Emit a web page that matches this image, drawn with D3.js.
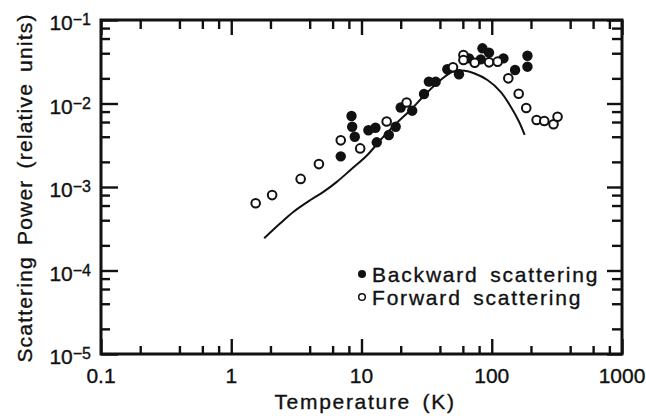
<!DOCTYPE html>
<html>
<head>
<meta charset="utf-8">
<script src="https://cdn.jsdelivr.net/npm/d3@7"></script>
<style>
  body { margin: 0; background: white; }
  text { font-family: "Liberation Sans", Arial, sans-serif; fill: #111; stroke: #111; stroke-width: 0.35px; }
</style>
</head>
<body>
<script>
// temperatures (K) and scattering power
let backT = [6.93, 8.38, 8.48, 8.88, 11.3, 12.8, 13.1, 16.2, 18.3, 20.0, 24.5, 30.2, 32.9, 37.1, 45.6, 56.0, 66.9, 82.3, 84.8, 95.3, 123, 151, 188, 188]
let backP = [2.33e-3, 7.08e-3, 5.27e-3, 4.00e-3, 4.78e-3, 5.13e-3, 3.43e-3, 4.20e-3, 5.27e-3, 8.95e-3, 8.2e-3, 1.30e-2, 1.83e-2, 1.82e-2, 2.57e-2, 2.24e-2, 3.47e-2, 3.38e-2, 4.58e-2, 4.06e-2, 3.47e-2, 2.52e-2, 3.73e-2, 2.76e-2]
let fwdT = [1.54, 2.06, 3.41, 4.71, 6.93, 9.77, 15.6, 22.2, 50.4, 60.6, 60.6, 74.0, 95.3, 111, 134, 161, 184, 221, 253, 298, 320]
let fwdP = [6.4e-4, 8.0e-4, 1.25e-3, 1.88e-3, 3.62e-3, 2.90e-3, 6.08e-3, 1.03e-2, 2.72e-2, 3.81e-2, 3.32e-2, 3.08e-2, 3.11e-2, 3.17e-2, 2.00e-2, 1.31e-2, 8.83e-3, 6.34e-3, 6.16e-3, 5.64e-3, 6.95e-3]
let curveT = [1.79, 2.38, 3.01, 4.05, 5.13, 6.50, 8.23, 11.1, 14.0, 18.3, 23.8, 31.1, 40.5, 50.1, 62.0, 73.1, 92.7, 117, 140, 162, 179]
let curveP = [2.43e-4, 3.67e-4, 5.06e-4, 6.98e-4, 8.79e-4, 1.16e-3, 1.60e-3, 2.42e-3, 3.66e-3, 5.68e-3, 8.36e-3, 1.30e-2, 1.91e-2, 2.40e-2, 2.47e-2, 2.30e-2, 1.91e-2, 1.38e-2, 9.16e-3, 6.05e-3, 4.20e-3]

let xMajor = [0.1, 1, 10, 100, 1000]
let xLabels = ['0.1', '1', '10', '100', '1000']
let yMajor = [1e-5, 1e-4, 1e-3, 1e-2, 1e-1]
let yExp = ['\u22125', '\u22124', '\u22123', '\u22122', '\u22121']
let minorSteps = [2, 4, 6, 8]
let legendNames = ['Backward scattering', 'Forward scattering']

function main(){
    let width = 646, height = 416
    let svg = d3.select('body').append('svg')
        .attr('width', width)
        .attr('height', height)
        .attr('style', 'background-color: white')

    let x = d3.scaleLog().domain([0.1, 1000]).range([101, 622])
    let y = d3.scaleLog().domain([1e-5, 1e-1]).range([354, 20])

    let xMinor = []
    xMajor.slice(0, -1).forEach(d => minorSteps.forEach(s => xMinor.push(d * s)))
    let yMinor = []
    yMajor.slice(0, -1).forEach(d => minorSteps.forEach(s => yMinor.push(d * s)))

    // ticks on all four sides, pointing inward
    function ticks(gen, vals, size, tx, ty){
        let g = svg.append('g')
            .attr('transform', `translate(${tx},${ty})`)
            .call(gen.tickValues(vals).tickSize(-size).tickFormat(''))
        g.select('.domain').remove()
        g.selectAll('line').attr('stroke', '#111').attr('stroke-width', 2.4)
    }
    ticks(d3.axisBottom(x), xMajor, 15, 0, 354)
    ticks(d3.axisBottom(x), xMinor, 8, 0, 354)
    ticks(d3.axisTop(x), xMajor, 15, 0, 20)
    ticks(d3.axisTop(x), xMinor, 9, 0, 20)
    ticks(d3.axisLeft(y), yMajor, 17, 101, 0)
    ticks(d3.axisLeft(y), yMinor, 9, 101, 0)
    ticks(d3.axisRight(y), yMajor, 15, 622, 0)
    ticks(d3.axisRight(y), yMinor, 10, 622, 0)

    svg.append('rect')
        .attr('x', 101).attr('y', 20)
        .attr('width', 521).attr('height', 334)
        .attr('fill', 'none')
        .attr('stroke', '#111')
        .attr('stroke-width', 3)

    // tick labels
    svg.selectAll('.xlab')
        .data(xMajor)
        .enter()
        .append('text')
        .attr('x', d => x(d))
        .attr('y', 383)
        .attr('text-anchor', 'middle')
        .attr('font-size', '21px')
        .text((d, i) => xLabels[i])

    let yl = svg.selectAll('.ylab')
        .data(yMajor)
        .enter()
        .append('text')
        .attr('x', 91)
        .attr('y', d => y(d) + 10)
        .attr('text-anchor', 'end')
        .attr('font-size', '21px')
    yl.append('tspan').text('10')
    yl.append('tspan')
        .attr('dy', -5)
        .attr('font-size', '16px')
        .text((d, i) => yExp[i])

    // axis titles
    svg.append('text')
        .attr('x', 365)
        .attr('y', 409)
        .attr('text-anchor', 'middle')
        .attr('font-size', '21px')
        .attr('letter-spacing', '1.7px')
        .attr('word-spacing', '4px')
        .text('Temperature (K)')
    svg.append('text')
        .attr('transform', 'translate(32,188) rotate(-90)')
        .attr('text-anchor', 'middle')
        .attr('font-size', '21px')
        .attr('letter-spacing', '1.2px')
        .attr('word-spacing', '4px')
        .text('Scattering Power (relative units)')

    // theory curve
    let line = d3.line()
        .x((d, i) => x(curveT[i]))
        .y(d => y(d))
        .curve(d3.curveCatmullRom)
    svg.append('path')
        .attr('d', line(curveP))
        .attr('fill', 'none')
        .attr('stroke', '#111')
        .attr('stroke-width', 2)

    svg.selectAll('.back')
        .data(backP)
        .enter()
        .append('circle')
        .attr('cx', (d, i) => x(backT[i]))
        .attr('cy', d => y(d))
        .attr('r', 5.2)
        .attr('fill', '#111')

    svg.selectAll('.fwd')
        .data(fwdP)
        .enter()
        .append('circle')
        .attr('cx', (d, i) => x(fwdT[i]))
        .attr('cy', d => y(d))
        .attr('r', 4.3)
        .attr('fill', 'white')
        .attr('stroke', '#111')
        .attr('stroke-width', 2)

    // legend
    let lg = svg.selectAll('.leg')
        .data(legendNames)
        .enter()
        .append('g')
        .attr('transform', (d, i) => `translate(362,${274 + i * 23})`)
    lg.append('circle')
        .attr('r', (d, i) => i == 0 ? 4 : 3.3)
        .attr('fill', (d, i) => i == 0 ? '#111' : 'white')
        .attr('stroke', '#111')
        .attr('stroke-width', (d, i) => i == 0 ? 0 : 1.5)
    lg.append('text')
        .attr('x', 10)
        .attr('y', 8)
        .attr('font-size', '21px')
        .attr('letter-spacing', '1.8px')
        .attr('word-spacing', '4px')
        .text(d => d)
}

main()
</script>
</body>
</html>
